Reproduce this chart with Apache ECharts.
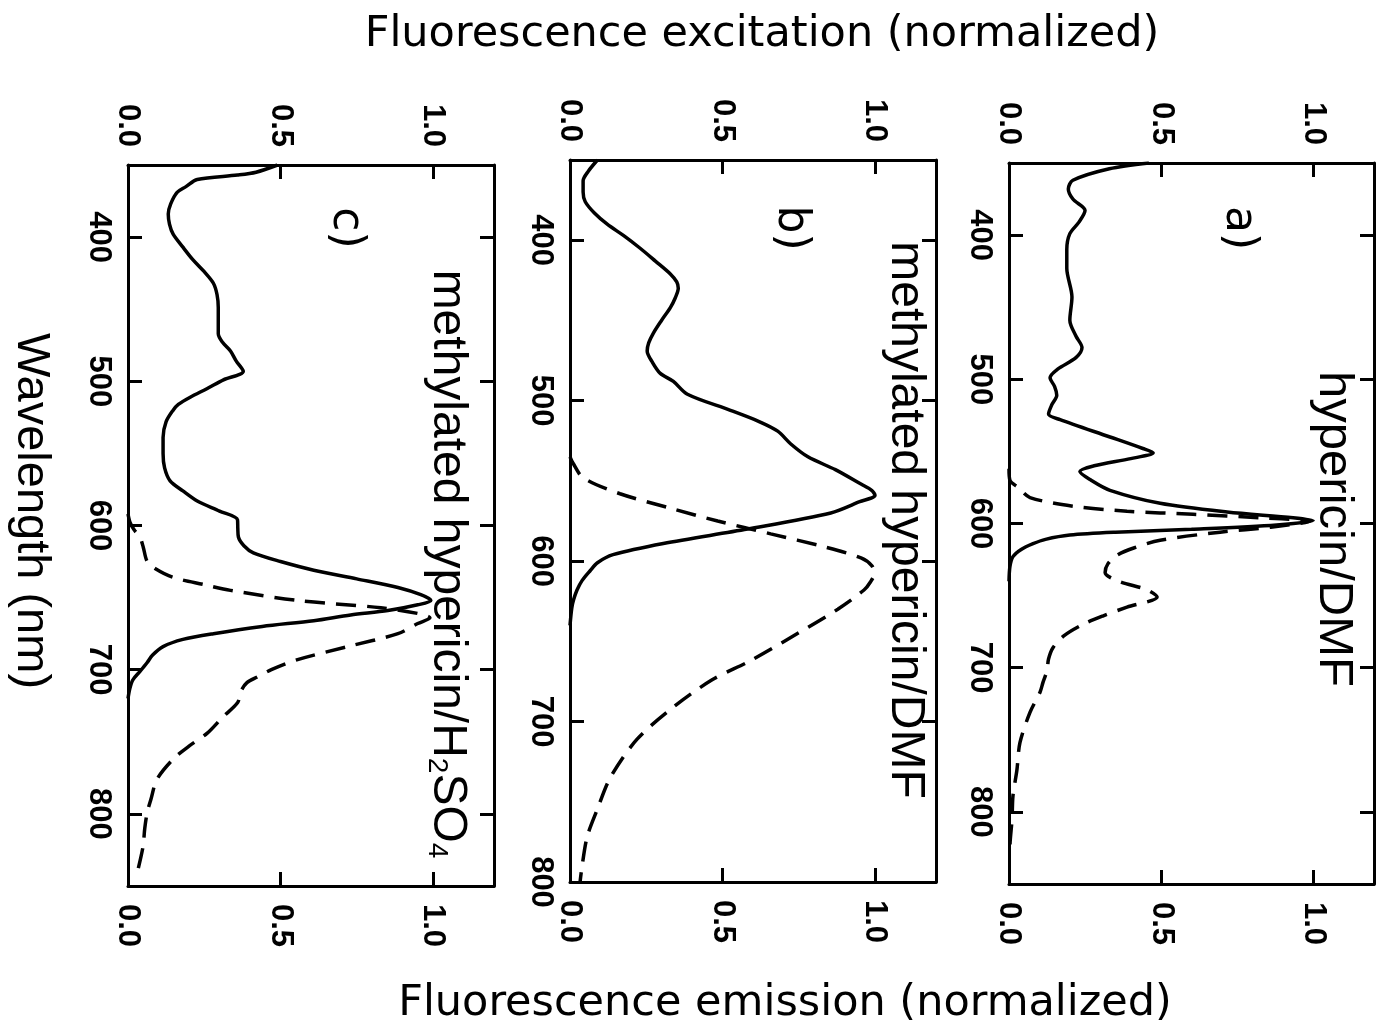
<!DOCTYPE html>
<html>
<head>
<meta charset="utf-8">
<style>
  html, body { margin: 0; padding: 0; background: #ffffff; }
  #chart { width: 1382px; height: 1032px; }
</style>
<script src="https://cdn.jsdelivr.net/npm/echarts@6.0.0/dist/echarts.min.js"></script>
</head>
<body>
<div id="chart"></div>
<script>
// ---- spectra: wavelength (nm) and normalized intensity ----

// a) hypericin / DMF
const aExcWl  = [350, 354, 362, 368, 375, 383, 391, 399, 410, 423, 443, 459, 470, 478, 485, 493, 499, 505, 511, 518, 524, 528, 540, 548, 551, 555, 560, 564, 570, 577, 586, 592, 596, 598, 601, 604, 606, 608, 611, 614, 618, 623, 630, 640];
const aExcVal = [0.46, 0.33, 0.21, 0.195, 0.21, 0.25, 0.23, 0.20, 0.19, 0.19, 0.207, 0.20, 0.22, 0.24, 0.22, 0.16, 0.135, 0.15, 0.157, 0.14, 0.13, 0.168, 0.332, 0.44, 0.474, 0.40, 0.28, 0.233, 0.27, 0.332, 0.497, 0.717, 0.934, 1.0, 0.88, 0.60, 0.35, 0.20, 0.12, 0.079, 0.04, 0.013, 0.003, 0.0];
const aEmiWl  = [562, 570, 575, 582, 588, 591.5, 593.6, 596, 598.4, 602.6, 606, 611.6, 617, 622, 628, 634, 640, 646, 651, 658, 664, 670, 678, 686, 694, 702, 710, 717, 731, 752, 771, 789, 805, 820, 830];
const aEmiVal = [0.0, 0.003, 0.03, 0.069, 0.21, 0.388, 0.605, 0.825, 0.99, 0.86, 0.694, 0.497, 0.41, 0.355, 0.325, 0.316, 0.36, 0.454, 0.487, 0.388, 0.31, 0.243, 0.18, 0.145, 0.13, 0.125, 0.112, 0.102, 0.069, 0.036, 0.026, 0.013, 0.01, 0.004, 0.002];

// b) methylated hypericin / DMF
const bExcWl  = [350, 357, 363, 370, 376, 383, 390, 397, 405, 413, 421, 426, 430, 436, 442, 450, 458, 464, 469, 476, 483, 488, 496, 506, 513, 519, 527, 535, 543, 552, 556, 559, 563, 570, 580, 589, 596, 601, 606, 612, 618, 624, 629, 640];
const bExcVal = [0.09, 0.06, 0.043, 0.043, 0.05, 0.08, 0.122, 0.175, 0.23, 0.28, 0.329, 0.35, 0.355, 0.345, 0.329, 0.30, 0.273, 0.258, 0.253, 0.27, 0.296, 0.339, 0.385, 0.526, 0.62, 0.681, 0.724, 0.78, 0.87, 0.954, 0.99, 1.0, 0.95, 0.855, 0.582, 0.306, 0.141, 0.09, 0.066, 0.04, 0.023, 0.012, 0.006, 0.0];
const bEmiWl  = [535, 539, 548, 558, 567, 575, 583, 591, 598, 603, 608, 613, 618, 630, 645, 662, 674, 691, 711, 735, 755, 772, 791, 800];
const bEmiVal = [0.0, 0.01, 0.043, 0.164, 0.329, 0.484, 0.658, 0.832, 0.954, 0.99, 0.997, 0.985, 0.964, 0.878, 0.747, 0.592, 0.466, 0.339, 0.22, 0.132, 0.089, 0.056, 0.039, 0.033];

// c) methylated hypericin / H2SO4
const cExcWl  = [350, 355, 357, 360, 365, 369, 377, 384, 391, 398, 407, 416, 424, 432, 440, 449, 458, 467, 473, 479, 486, 493, 499, 505, 511, 516, 520, 528, 539, 550, 560, 569, 576, 583, 590, 596, 602, 608, 614, 619, 625, 631, 637, 643, 648, 652, 655, 659, 662, 666, 670, 675, 679, 684, 690, 695, 701, 707, 713, 720];
const cExcVal = [0.49, 0.42, 0.359, 0.227, 0.19, 0.161, 0.14, 0.132, 0.136, 0.148, 0.18, 0.214, 0.25, 0.28, 0.292, 0.296, 0.296, 0.296, 0.31, 0.336, 0.355, 0.378, 0.313, 0.26, 0.204, 0.165, 0.148, 0.125, 0.115, 0.115, 0.12, 0.138, 0.18, 0.227, 0.30, 0.359, 0.36, 0.362, 0.38, 0.411, 0.50, 0.609, 0.75, 0.885, 0.96, 0.993, 0.95, 0.852, 0.73, 0.609, 0.44, 0.28, 0.18, 0.115, 0.08, 0.063, 0.04, 0.016, 0.006, 0.0];
const cEmiWl  = [592, 598, 603, 608, 615, 625, 630, 636, 641, 645, 652, 657, 661, 664, 668, 675, 684, 693, 700, 705, 709, 715, 723, 733, 744, 753, 762, 776, 790, 799, 810, 823, 841];
const cEmiVal = [0.0, 0.007, 0.02, 0.039, 0.05, 0.063, 0.09, 0.148, 0.25, 0.336, 0.556, 0.829, 0.95, 0.99, 0.95, 0.885, 0.72, 0.556, 0.47, 0.424, 0.39, 0.37, 0.359, 0.31, 0.26, 0.2, 0.148, 0.095, 0.075, 0.063, 0.055, 0.049, 0.03];

// ---- axis ticks and labels ----
const valueTickLabels = [0, 0.5, 1.0];
const valueTickMarks = [0.5, 1.0];
const wlTickLabels = [400, 500, 600, 700, 800];

// panel texts
const panelLetters = ['a)', 'b)', 'c)'];
const panelNames = ['hypericin/DMF', 'methylated hypericin/DMF', 'methylated hypericin/H{sub|2}SO{sub|4}'];
const titleTop = 'Fluorescence excitation (normalized)';
const titleBottom = 'Fluorescence emission (normalized)';
const titleLeft = 'Wavelength (nm)';

// ---- layout ----
const panels = [
  { grid: { left: 1009, top: 163, width: 365, height: 721 }, wlMax: 850,
    exc: [aExcWl, aExcVal], emi: [aEmiWl, aEmiVal],
    letterPos: [1238, 228], namePos: [1334, 529], nameSize: 49 },
  { grid: { left: 570, top: 160, width: 366, height: 722 }, wlMax: 800,
    exc: [bExcWl, bExcVal], emi: [bEmiWl, bEmiVal],
    letterPos: [790, 228], namePos: [905, 520], nameSize: 48 },
  { grid: { left: 128, top: 165, width: 366, height: 721 }, wlMax: 850,
    exc: [cExcWl, cExcVal], emi: [cEmiWl, cEmiVal],
    letterPos: [345, 228], namePos: [447, 564], nameSize: 48 }
];

const INK = '#000000';
const tickFont = { fontFamily: 'Liberation Sans', fontWeight: 'bold', fontSize: 31, color: INK };
const frame = { show: true, onZero: false, lineStyle: { color: INK, width: 3 } };

function pairs(wl, val) {
  return wl.map((w, i) => [val[i], w]);
}

const grids = [], xAxes = [], yAxes = [], series = [], graphics = [];

panels.forEach((p, i) => {
  grids.push(Object.assign({ containLabel: false }, p.grid));

  ['top', 'bottom'].forEach(pos => {
    xAxes.push({
      gridIndex: i, type: 'value', position: pos, min: 0, max: 1.2,
      axisLine: frame,
      axisTick: { show: true, inside: true, length: 14, customValues: valueTickMarks,
                  lineStyle: { color: INK, width: 3 } },
      // the top scale is mirrored by the library, so it needs the opposite turn
      axisLabel: Object.assign({ show: true, customValues: valueTickLabels,
                  rotate: pos === 'top' ? 90 : -90,
                  margin: 18, formatter: v => Number(v).toFixed(1) }, tickFont),
      splitLine: { show: false }
    });
  });

  ['left', 'right'].forEach(pos => {
    yAxes.push({
      gridIndex: i, type: 'value', position: pos, inverse: true, min: 350, max: p.wlMax,
      axisLine: frame,
      axisTick: { show: true, inside: true, length: 14, customValues: wlTickLabels,
                  lineStyle: { color: INK, width: 3 } },
      axisLabel: Object.assign({ show: pos === 'left', customValues: wlTickLabels, rotate: -90,
                  margin: 14, formatter: v => String(v) }, tickFont),
      splitLine: { show: false }
    });
  });

  // excitation: solid, read against the top scale
  series.push({
    type: 'line', xAxisIndex: 2 * i, yAxisIndex: 2 * i,
    data: pairs(p.exc[0], p.exc[1]),
    symbol: 'none', smooth: 0.3, silent: true,
    lineStyle: { color: INK, width: 3.5, type: 'solid' }
  });
  // emission: dashed, read against the bottom scale
  series.push({
    type: 'line', xAxisIndex: 2 * i + 1, yAxisIndex: 2 * i,
    data: pairs(p.emi[0], p.emi[1]),
    symbol: 'none', smooth: 0.3, silent: true,
    lineStyle: { color: INK, width: 3.5, type: [20, 11], cap: 'butt' }
  });

  graphics.push({
    type: 'text', x: p.letterPos[0], y: p.letterPos[1], rotation: -Math.PI / 2,
    style: { text: panelLetters[i], fontFamily: 'DejaVu Sans', fontSize: 44, fill: INK,
             align: 'center', verticalAlign: 'middle', textAlign: 'center', textVerticalAlign: 'middle' }
  });
  graphics.push({
    type: 'text', x: p.namePos[0], y: p.namePos[1], rotation: -Math.PI / 2,
    style: { text: panelNames[i], fontFamily: 'Liberation Sans', fontSize: p.nameSize, fill: INK,
             align: 'center', verticalAlign: 'middle', textAlign: 'center', textVerticalAlign: 'middle',
             rich: { sub: { fontFamily: 'Liberation Sans', fontSize: 28, fill: INK, verticalAlign: 'bottom' } } }
  });
});

graphics.push({
  type: 'text', x: 762, y: 35,
  style: { text: titleTop, fontFamily: 'DejaVu Sans', fontSize: 43, fill: INK,
           align: 'center', verticalAlign: 'middle', textAlign: 'center', textVerticalAlign: 'middle' }
});
graphics.push({
  type: 'text', x: 785, y: 1004,
  style: { text: titleBottom, fontFamily: 'DejaVu Sans', fontSize: 43, fill: INK,
           align: 'center', verticalAlign: 'middle', textAlign: 'center', textVerticalAlign: 'middle' }
});
graphics.push({
  type: 'text', x: 31, y: 511, rotation: -Math.PI / 2,
  style: { text: titleLeft, fontFamily: 'Liberation Sans', fontSize: 47, fill: INK,
           align: 'center', verticalAlign: 'middle', textAlign: 'center', textVerticalAlign: 'middle' }
});

const chart = echarts.init(document.getElementById('chart'), null, { renderer: 'canvas' });
chart.setOption({
  animation: false,
  backgroundColor: '#ffffff',
  grid: grids,
  xAxis: xAxes,
  yAxis: yAxes,
  series: series,
  graphic: { elements: graphics }
});
</script>
</body>
</html>
